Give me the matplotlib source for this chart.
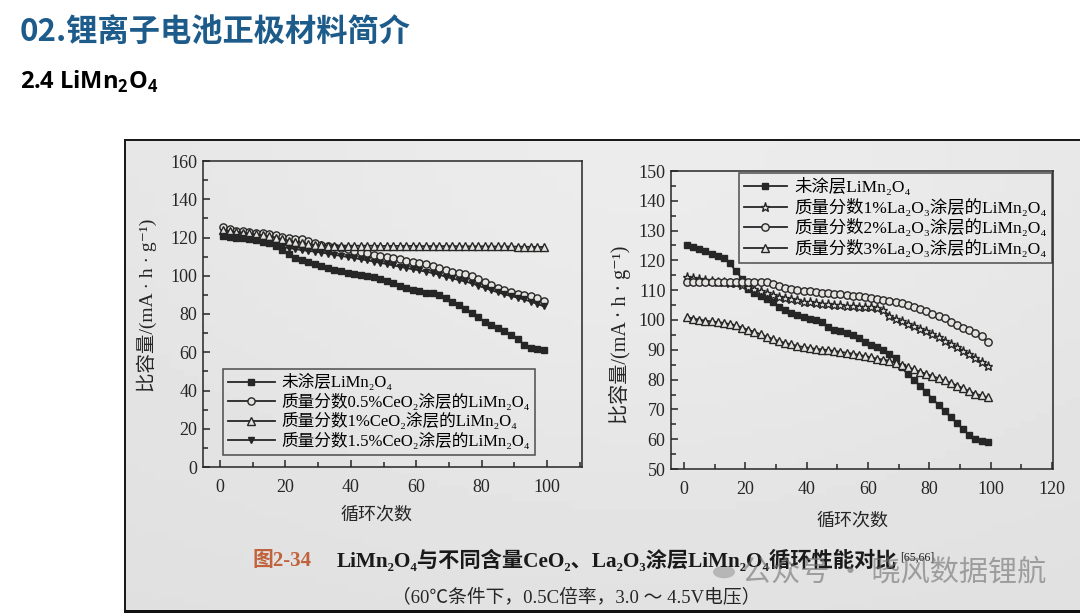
import numpy as np
import matplotlib
matplotlib.use("Agg")
import matplotlib.pyplot as plt
from matplotlib.patches import Rectangle
from matplotlib.ticker import MultipleLocator

W, H = 1080, 613

SERIF = ['Liberation Serif', 'Noto Sans CJK SC', 'DejaVu Serif']
SANS = ['Noto Sans CJK SC', 'DejaVu Sans']
plt.rcParams['font.family'] = SERIF
plt.rcParams['mathtext.fontset'] = 'custom'
plt.rcParams['mathtext.rm'] = 'Open Sans'
plt.rcParams['mathtext.bf'] = 'Open Sans:bold'

# 循环次数 (每两次取一个点)
cycles = list(range(1, 101, 2))

# 左图: CeO2 涂层
ce_labels = ['未涂层LiMn₂O₄', '质量分数0.5%CeO₂涂层的LiMn₂O₄',
             '质量分数1%CeO₂涂层的LiMn₂O₄', '质量分数1.5%CeO₂涂层的LiMn₂O₄']
ce_bare = [120.6, 120.2, 119.9, 119.5, 119.0, 118.5, 117.8, 117.0, 115.5, 113.6,
           111.2, 109.2, 108.0, 107.0, 106.0, 105.2, 104.0, 103.1, 102.3, 101.6,
           101.0, 100.4, 99.9, 99.4, 98.2, 97.0, 96.0, 94.8, 93.8, 92.8,
           91.8, 91.2, 90.8, 89.8, 88.3, 86.5, 84.5, 82.4, 80.3, 78.2,
           76.0, 74.4, 72.8, 71.0, 69.0, 67.0, 64.0, 62.2, 61.6, 61.3]
ce_05 = [125.5, 124.2, 123.6, 123.2, 122.9, 122.5, 122.1, 121.7, 121.2, 120.4,
         119.8, 119.4, 119.0, 118.3, 117.2, 116.3, 115.8, 115.2, 114.5, 113.8,
         113.1, 112.4, 111.8, 111.1, 110.5, 109.9, 109.2, 108.5, 107.9, 107.2,
         106.5, 105.9, 105.2, 104.2, 103.0, 101.8, 101.2, 100.7, 99.8, 98.4,
         96.6, 95.3, 93.8, 92.3, 91.3, 90.6, 89.9, 89.2, 88.3, 87.0]
ce_1 = [123.9, 123.4, 123.0, 122.6, 122.1, 121.6, 121.1, 120.6, 120.0, 119.1,
        118.3, 117.6, 117.0, 116.5, 116.1, 115.9, 115.8, 115.8, 115.8, 115.7,
        115.7, 115.7, 115.7, 115.7, 115.6, 115.6, 115.6, 115.6, 115.6, 115.6,
        115.5, 115.5, 115.5, 115.5, 115.5, 115.5, 115.4, 115.4, 115.4, 115.4,
        115.4, 115.3, 115.3, 115.3, 115.3, 115.2, 115.2, 115.1, 115.1, 115.0]
ce_15 = [120.7, 120.4, 120.1, 119.7, 119.2, 118.6, 117.8, 117.0, 116.0, 115.0,
         114.5, 114.0, 113.4, 113.0, 112.6, 112.1, 111.6, 110.9, 110.4, 109.8,
         109.3, 108.6, 108.1, 107.4, 106.8, 106.1, 105.4, 104.7, 104.0, 103.4,
         102.8, 102.1, 101.4, 100.6, 99.5, 98.6, 97.8, 97.0, 96.0, 94.8,
         93.6, 92.4, 91.3, 90.2, 89.4, 88.5, 87.6, 86.5, 85.3, 84.0]

# 右图: La2O3 涂层
la_labels = ['未涂层LiMn₂O₄', '质量分数1%La₂O₃涂层的LiMn₂O₄',
             '质量分数2%La₂O₃涂层的LiMn₂O₄', '质量分数3%La₂O₃涂层的LiMn₂O₄']
la_bare = [125.0, 124.5, 123.9, 123.1, 122.3, 121.6, 120.8, 119.0, 116.3, 113.8,
           110.5, 109.0, 107.9, 107.0, 106.0, 104.5, 103.2, 102.4, 101.7, 101.0,
           100.4, 99.9, 99.2, 97.6, 96.8, 96.2, 95.6, 94.8, 93.9, 92.6,
           91.6, 90.9, 90.1, 88.7, 87.4, 84.3, 81.8, 80.0, 77.9, 75.7,
           73.6, 71.5, 69.4, 67.4, 65.3, 63.4, 61.3, 60.1, 59.5, 59.1]
la_1 = [114.4, 114.1, 113.7, 113.3, 113.1, 112.9, 112.7, 112.5, 112.3, 111.8,
        111.0, 110.3, 109.7, 109.0, 108.3, 107.8, 107.4, 107.0, 106.6, 106.2,
        105.9, 105.7, 105.5, 105.3, 105.1, 104.9, 104.8, 104.6, 104.5, 104.3,
        104.2, 103.9, 103.2, 101.5, 100.4, 99.6, 98.7, 97.9, 97.0, 96.2,
        95.2, 94.2, 93.1, 92.0, 90.9, 89.7, 88.5, 87.3, 85.9, 84.7]
la_2 = [112.7, 112.7, 112.7, 112.7, 112.7, 112.7, 112.7, 112.7, 112.7, 112.7,
        112.7, 112.7, 112.7, 112.7, 112.0, 111.4, 110.9, 110.4, 110.1, 109.8,
        109.6, 109.3, 109.1, 108.9, 108.7, 108.6, 108.4, 108.1, 107.9, 107.6,
        107.3, 106.9, 106.6, 106.3, 106.0, 105.6, 105.2, 104.3, 103.6, 102.9,
        102.0, 101.4, 100.7, 99.3, 98.2, 97.2, 96.5, 95.6, 94.7, 92.5]
la_3 = [101.0, 100.5, 100.1, 99.8, 99.5, 99.3, 99.0, 98.6, 98.2, 97.4,
        96.7, 96.0, 95.2, 94.4, 93.6, 92.9, 92.3, 91.8, 91.3, 90.9,
        90.6, 90.3, 90.1, 89.9, 89.6, 89.3, 89.0, 88.7, 88.3, 87.9,
        87.5, 87.0, 86.7, 86.3, 85.6, 84.9, 84.2, 83.4, 82.6, 81.9,
        81.2, 80.4, 79.7, 78.9, 78.0, 77.1, 76.1, 75.2, 74.7, 74.0]

INK = '#262626'
BG = '#e4e3e0'


def px(x, y):
    return x / W, 1 - y / H


def ftext(x, y, s, **kw):
    x0, y0 = px(x, y)
    return fig.text(x0, y0, s, **kw)


def draw_series(ax, ys, marker, filled, ms):
    face = INK if filled else BG
    ax.plot(cycles, ys, color=INK, lw=1.3, marker=marker, ms=ms,
            mfc=face, mec=INK, mew=1.0)


fig = plt.figure(figsize=(W / 100, H / 100), dpi=100)
fig.patch.set_facecolor('white')

# 书页照片背景
bg = fig.add_axes([124 / W, 0, 1 - 124 / W, 1 - 140 / H], zorder=-5)
gx = np.linspace(0, 1, 64)
gy = np.linspace(0, 1, 64)
GX, GY = np.meshgrid(gx, gy)
shade = 0.895 + 0.03 * np.exp(-((GX - 0.55) ** 2 / 0.25 + (GY - 0.15) ** 2 / 0.6)) - 0.02 * GY
bg.imshow(shade, cmap='gray', vmin=0, vmax=1, aspect='auto', extent=(0, 1, 1, 0))
bg.set_xlim(0, 1)
bg.set_ylim(1, 0)
bg.axis('off')
fig.add_artist(Rectangle(px(124, 613), 2 / W, (613 - 140) / H, transform=fig.transFigure,
                         color='#1a1a1a', lw=0))
fig.add_artist(Rectangle(px(124, 141), (W - 124) / W, 2 / H, transform=fig.transFigure,
                         color='#1a1a1a', lw=0))
fig.add_artist(Rectangle(px(124, 613), (W - 124) / W, 3 / H, transform=fig.transFigure,
                         color='#111111', lw=0))

# 幻灯片标题
ftext(20, 32, '02.锂离子电池正极材料简介', family=SANS, fontsize=22.5, fontweight='bold',
      color='#1d5b8a', va='center', ha='left')
ftext(20, 82, r'2.4 LiMn$_\mathbf{2}$O$_\mathbf{4}$', family='Open Sans', fontsize=17,
      fontweight='bold', color='black', va='center', ha='left')


def style_axes(ax, ymaj, ymin_):
    ax.set_facecolor('none')
    for s in ax.spines.values():
        s.set_color(INK)
        s.set_linewidth(1.1)
    ax.xaxis.set_major_locator(MultipleLocator(20))
    ax.xaxis.set_minor_locator(MultipleLocator(10))
    ax.yaxis.set_major_locator(MultipleLocator(ymaj))
    ax.yaxis.set_minor_locator(MultipleLocator(ymin_))
    ax.tick_params(which='both', direction='in', top=False, right=False, colors=INK,
                   labelsize=13, labelcolor='#262626')
    ax.tick_params(which='major', length=5, width=1.1)
    ax.tick_params(which='minor', length=3.5, width=1.1)
    ax.tick_params(axis='x', pad=9)
    ax.tick_params(axis='y', pad=4)


def style_legend(leg):
    fr = leg.get_frame()
    fr.set_edgecolor(INK)
    fr.set_facecolor('none')
    fr.set_linewidth(1.1)


# 左图
ax1 = fig.add_axes([203 / W, (613 - 467) / H, 379 / W, 306 / H])
style_axes(ax1, 20, 10)
ax1.set_xlim(-5.2, 110.7)
ax1.set_ylim(0, 160)
draw_series(ax1, ce_bare, 's', True, 3.8)
draw_series(ax1, ce_05, 'o', False, 5.2)
draw_series(ax1, ce_1, '^', False, 5.2)
draw_series(ax1, ce_15, 'v', True, 5.0)
leg1 = ax1.legend(ce_labels, loc='lower left', bbox_to_anchor=(0.053, 0.039),
                  borderaxespad=0, numpoints=1, frameon=True, fancybox=False,
                  handlelength=2.8, handletextpad=0.4, labelspacing=0.14,
                  borderpad=0.3, prop={'family': SERIF, 'size': 12})
style_legend(leg1)

# 右图
ax2 = fig.add_axes([671 / W, (613 - 469) / H, 382 / W, 298 / H])
style_axes(ax2, 10, 5)
ax2.set_xlim(-4.2, 120.3)
ax2.set_ylim(50, 150)
draw_series(ax2, la_bare, 's', True, 4.0)
draw_series(ax2, la_1, '*', False, 6.5)
draw_series(ax2, la_2, 'o', False, 5.3)
draw_series(ax2, la_3, '^', False, 5.3)
leg2 = ax2.legend(la_labels, loc='upper right', bbox_to_anchor=(0.997, 0.993),
                  borderaxespad=0, numpoints=1, frameon=True, fancybox=False,
                  handlelength=2.5, handletextpad=0.4, labelspacing=0.14,
                  borderpad=0.3, prop={'family': SERIF, 'size': 12.5})
style_legend(leg2)

# 坐标轴标题
ylab = '比容量/(mA · h · g⁻¹)'
ftext(147, 305, ylab, family=SERIF, fontsize=14, rotation=90, va='center', ha='center',
      color='#262626')
ftext(620, 335, ylab, family=SERIF, fontsize=14.5, rotation=90, va='center', ha='center',
      color='#262626')
ftext(376, 515, '循环次数', family=SERIF, fontsize=13, va='center', ha='center', color='#262626')
ftext(852, 521, '循环次数', family=SERIF, fontsize=13, va='center', ha='center', color='#262626')

# 图注
ftext(252, 561, '图2-34', family=SERIF, fontsize=15, fontweight='bold', color='#c0623c',
      va='center', ha='left')
cap = ftext(337, 561, 'LiMn₂O₄与不同含量CeO₂、La₂O₃涂层LiMn₂O₄循环性能对比', family=SERIF,
            fontsize=15.3, fontweight='bold', color='#1a1a1a', va='center', ha='left')
fig.canvas.draw()
ext = cap.get_window_extent()
fig.text(ext.x1 / W + 3 / W, ext.y1 / H - 2 / H, '[65,66]', family=SERIF, fontsize=8.5,
         color='#1a1a1a', va='top', ha='left')
ftext(392, 598, '（60℃条件下，0.5C倍率，3.0 ～ 4.5V电压）', family=SERIF, fontsize=13.5,
      color='#262626', va='center', ha='left')

# 水印
fig.add_artist(plt.Circle(px(724, 572), 11 / W, transform=fig.transFigure,
                          color='#8a8a8a', alpha=0.5, lw=0))
ftext(742, 572, '公众号 · 晓风数据锂航', family=SANS, fontsize=21, color='#707070',
      alpha=0.6, va='center', ha='left')

fig.savefig('out.png', dpi=100)
